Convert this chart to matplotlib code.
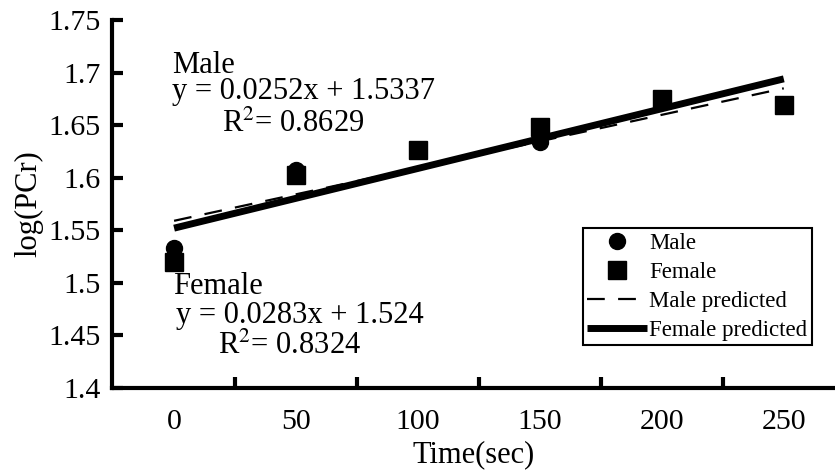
import matplotlib.pyplot as plt
import numpy as np

plt.rcParams['font.family'] = ['Liberation Serif', 'DejaVu Serif']
plt.rcParams['mathtext.fontset'] = 'stix'

# data
time = [0, 50, 100, 150, 200, 250]
male = [1.533, 1.607, 1.626, 1.634, 1.675, 1.669]
female = [1.520, 1.603, 1.626, 1.648, 1.675, 1.669]
pred_time = [0, 250]
male_pred = [1.559, 1.685]
female_pred = [1.552, 1.694]

yticks = [1.4, 1.45, 1.5, 1.55, 1.6, 1.65, 1.7, 1.75]
ylabels = ['1.4', '1.45', '1.5', '1.55', '1.6', '1.65', '1.7', '1.75']
xticks = [0, 50, 100, 150, 200, 250]
xtick_marks = [25, 75, 125, 175, 225]

fig = plt.figure(figsize=(8.35, 4.70), dpi=100)
ax = fig.add_axes([0.134, 0.1745, 0.866, 0.783])

ax.plot(time, male, 'o', color='black', ms=11.5, label='Male', zorder=3)
ax.plot(time, female, 's', color='black', ms=12.5, label='Female', zorder=3)
ax.plot(pred_time, male_pred, color='black', lw=1.6, dashes=(8, 6), label='Male predicted')
ax.plot(pred_time, female_pred, color='black', lw=5, solid_capstyle='butt', label='Female predicted')

ax.set_xlim(-25.5, 271)
ax.set_ylim(1.4, 1.75)
ax.set_yticks(yticks)
ax.set_yticklabels(ylabels)
ax.set_xticks(xticks)
ax.set_xticks(xtick_marks, minor=True)
ax.tick_params(axis='x', which='major', length=0, pad=15, labelsize=21.5)
ax.tick_params(axis='x', which='minor', direction='in', length=8, width=3)
ax.tick_params(axis='y', direction='in', length=8, width=3, pad=8, labelsize=21.5)

for s in ['top', 'right']:
    ax.spines[s].set_visible(False)
for s in ['left', 'bottom']:
    ax.spines[s].set_linewidth(3)

ax.set_xlabel('Time(sec)', fontsize=22, labelpad=4)
ax.set_ylabel('log(PCr)', fontsize=22, labelpad=4)

# regression equations
ax.text(-0.8, 1.700, 'Male', fontsize=22)
ax.text(-0.8, 1.675, 'y = 0.0252x + 1.5337', fontsize=22)
ax.text(19.7, 1.6435, r'R$^2$= 0.8629', fontsize=22)
ax.text(-0.4, 1.489, 'Female', fontsize=22)
ax.text(0.8, 1.462, 'y = 0.0283x + 1.524', fontsize=22)
ax.text(18, 1.4325, r'R$^2$= 0.8324', fontsize=22)

leg = ax.legend(loc='upper left', bbox_to_anchor=(0.651, 0.435), fontsize=16.5,
                frameon=True, fancybox=False, edgecolor='black', framealpha=1,
                handlelength=2.6, handletextpad=0.1, labelspacing=0.35,
                borderaxespad=0, borderpad=0.2)
leg.get_frame().set_linewidth(1.5)

fig.savefig('out.png', dpi=100)
